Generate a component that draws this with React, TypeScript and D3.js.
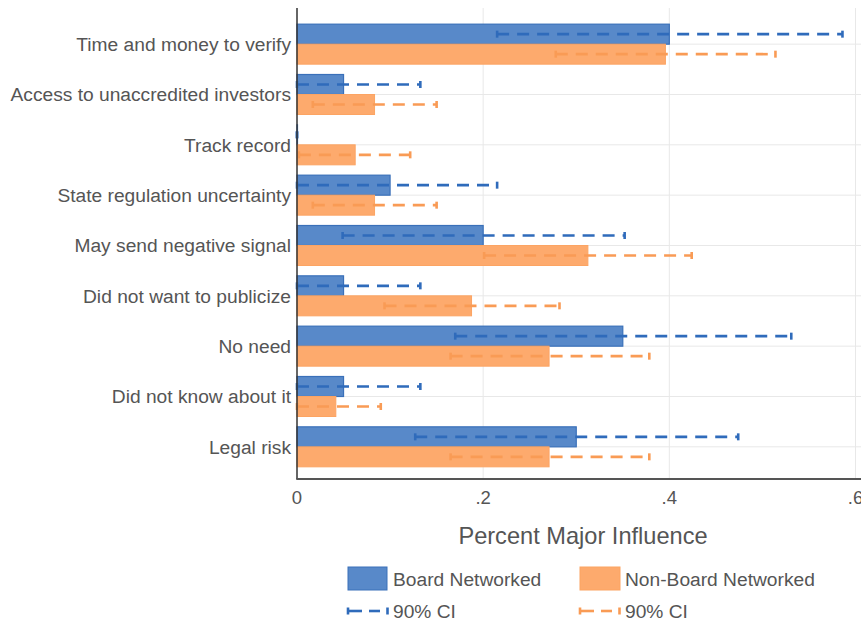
import React from "react";
import * as d3 from "d3";

const categories = [
  "Time and money to verify",
  "Access to unaccredited investors",
  "Track record",
  "State regulation uncertainty",
  "May send negative signal",
  "Did not want to publicize",
  "No need",
  "Did not know about it",
  "Legal risk",
];
const boardVals = [0.4, 0.05, 0, 0.1, 0.2, 0.05, 0.35, 0.05, 0.3];
const boardLo = [0.215, 0, 0, 0, 0.049, 0, 0.17, 0, 0.127];
const boardHi = [0.586, 0.1325, 0, 0.215, 0.352, 0.1325, 0.531, 0.1325, 0.474];
const nonVals = [0.3958, 0.0833, 0.0625, 0.0833, 0.3125, 0.1875, 0.2708, 0.0417, 0.2708];
const nonLo = [0.278, 0.017, 0.002, 0.017, 0.201, 0.094, 0.165, 0, 0.165];
const nonHi = [0.514, 0.15, 0.1216, 0.15, 0.424, 0.282, 0.3785, 0.09, 0.3785];
const xTicks = [0, 0.2, 0.4, 0.6];
const seriesNames = ["Board Networked", "Non-Board Networked"];
const ciLabel = "90% CI";
const xTitle = "Percent Major Influence";

const W = 861;
const H = 624;
const FONT = "'Liberation Sans', Arial, sans-serif";
const TXT = "#555";
const BLUE_FILL = "#5889c9";
const BLUE_STROKE = "#3a70b9";
const BLUE_CI = "#2f6bbb";
const OR_FILL = "#fdaa6d";
const OR_STROKE = "#fca463";
const OR_CI = "#f99b55";

export default function App() {
  const x = d3.scaleLinear().domain([0, 0.6]).range([297, 855.5]);
  const y = d3.scaleBand<string>().domain(categories).range([19, 472]).padding(0);
  const plotTop = 8;
  const plotBottom = 479;
  const barH = 20;
  const fmt = (v: number) => (v === 0 ? "0" : d3.format(".1f")(v).replace(/^0/, ""));

  const ci = (lo: number, hi: number, cy: number, color: string, key: string) => (
    <g key={key}>
      <line x1={x(lo)} x2={x(hi)} y1={cy} y2={cy} stroke={color} strokeWidth={2.6} strokeDasharray="12,8" />
      <line x1={x(lo)} x2={x(lo)} y1={cy - 3.5} y2={cy + 3.5} stroke={color} strokeWidth={2.6} />
      <line x1={x(hi)} x2={x(hi)} y1={cy - 3.5} y2={cy + 3.5} stroke={color} strokeWidth={2.6} />
    </g>
  );

  return (
    <svg width={W} height={H} style={{ position: "absolute", left: 0, top: 0 }} fontFamily={FONT}>
      <rect width={W} height={H} fill="#fff" />
      {xTicks.slice(1).map((t) => (
        <line key={"gx" + t} x1={x(t)} x2={x(t)} y1={plotTop} y2={plotBottom} stroke="#e8e8e8" strokeWidth={1} />
      ))}
      {categories.map((c) => {
        const cy = (y(c) as number) + y.bandwidth() / 2;
        return <line key={"gy" + c} x1={x(0)} x2={W} y1={cy} y2={cy} stroke="#e8e8e8" strokeWidth={1} />;
      })}
      {categories.map((c, i) => {
        const cy = (y(c) as number) + y.bandwidth() / 2;
        return (
          <g key={"b" + c}>
            <rect x={x(0)} y={cy - barH} width={Math.max(0.5, x(boardVals[i]) - x(0))} height={barH} fill={BLUE_FILL} stroke={BLUE_STROKE} strokeWidth={1.2} />
            <rect x={x(0)} y={cy} width={x(nonVals[i]) - x(0)} height={barH} fill={OR_FILL} stroke={OR_STROKE} strokeWidth={1} />
          </g>
        );
      })}
      {categories.map((c, i) => {
        const cy = (y(c) as number) + y.bandwidth() / 2;
        return (
          <g key={"ci" + c}>
            {ci(boardLo[i], boardHi[i], cy - barH / 2, BLUE_CI, "bc")}
            {ci(nonLo[i], nonHi[i], cy + barH / 2, OR_CI, "oc")}
          </g>
        );
      })}
      <line x1={x(0)} x2={x(0)} y1={plotTop} y2={plotBottom} stroke="#333" strokeWidth={1.5} />
      <line x1={x(0) - 0.75} x2={W} y1={plotBottom} y2={plotBottom} stroke="#555" strokeWidth={1.8} />
      {categories.map((c) => {
        const cy = (y(c) as number) + y.bandwidth() / 2;
        return (
          <text key={"yl" + c} x={291} y={cy} dy="0.35em" textAnchor="end" fontSize={19.2} fill={TXT}>
            {c}
          </text>
        );
      })}
      {xTicks.map((t) => (
        <text key={"xt" + t} x={x(t)} y={504} textAnchor="middle" fontSize={18.5} fill={TXT}>
          {fmt(t)}
        </text>
      ))}
      <text x={583} y={544} textAnchor="middle" fontSize={23.6} fill={TXT}>
        {xTitle}
      </text>
      <rect x={348} y={567} width={39} height={23} fill={BLUE_FILL} stroke={BLUE_STROKE} strokeWidth={1} />
      <text x={393} y={585.5} fontSize={19.2} fill={TXT}>{seriesNames[0]}</text>
      <rect x={580} y={567} width={40} height={23} fill={OR_FILL} stroke={OR_STROKE} strokeWidth={1} />
      <text x={625} y={585.5} fontSize={19.2} fill={TXT}>{seriesNames[1]}</text>
      {[
        { x0: 347, color: BLUE_CI },
        { x0: 579, color: OR_CI },
      ].map((d, i) => (
        <g key={"lci" + i}>
          <line x1={d.x0} x2={d.x0 + 15} y1={611} y2={611} stroke={d.color} strokeWidth={2.6} />
          <line x1={d.x0 + 22} x2={d.x0 + 33} y1={611} y2={611} stroke={d.color} strokeWidth={2.6} />
          <line x1={d.x0 + 1} x2={d.x0 + 1} y1={607.5} y2={614.5} stroke={d.color} strokeWidth={2.6} />
          <line x1={d.x0 + 40.5} x2={d.x0 + 40.5} y1={607.5} y2={614.5} stroke={d.color} strokeWidth={2.6} />
          <text x={d.x0 + 46} y={617.5} fontSize={19.2} fill={TXT}>{ciLabel}</text>
        </g>
      ))}
    </svg>
  );
}
